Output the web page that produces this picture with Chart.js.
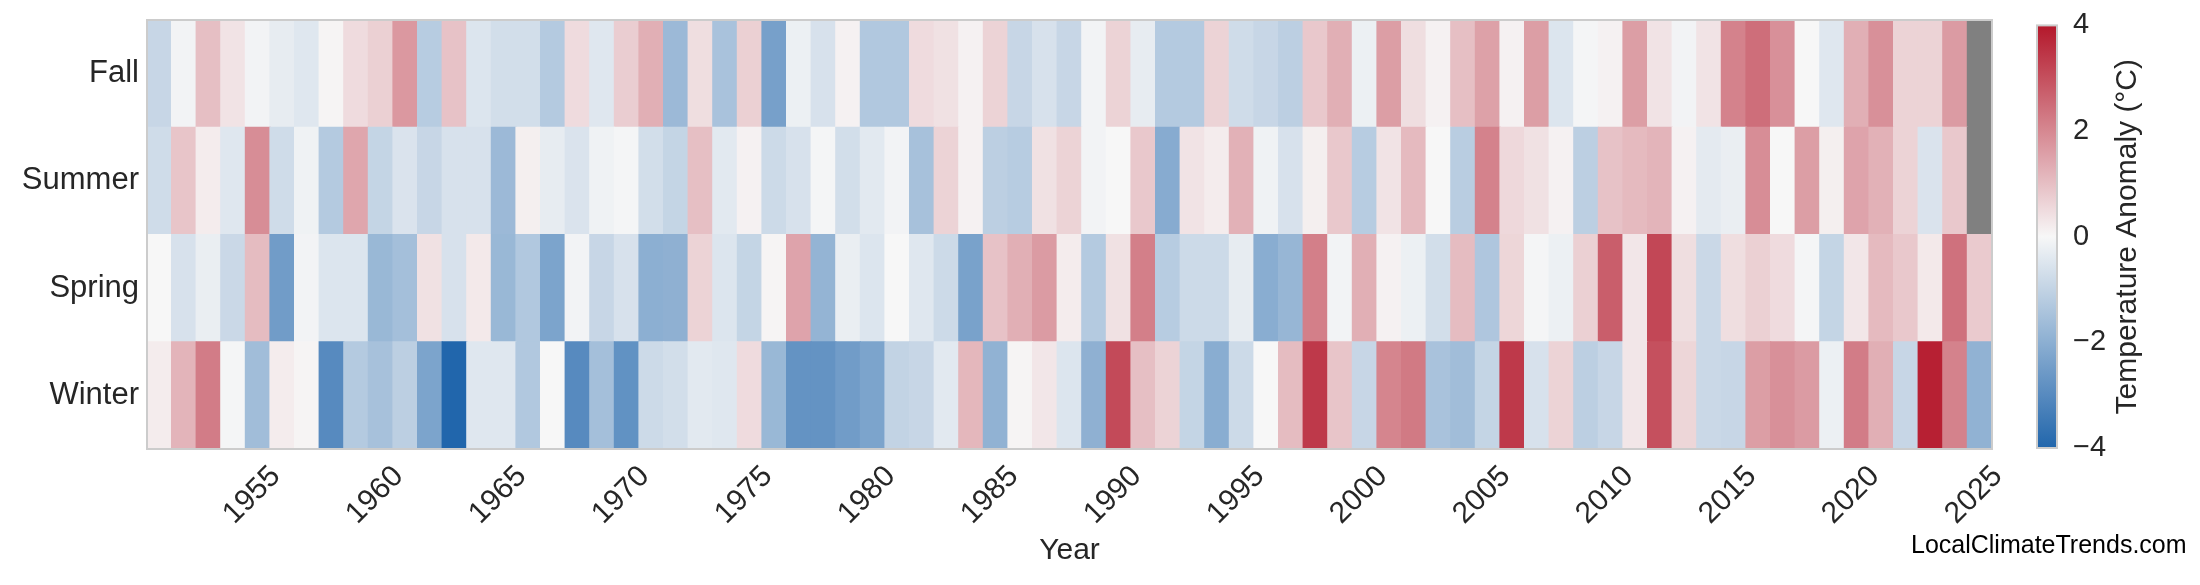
<!DOCTYPE html>
<html>
<head>
<meta charset="utf-8">
<script src="https://cdn.jsdelivr.net/npm/chart.js@4.4.1/dist/chart.umd.min.js"></script>
<style>
  html, body { margin: 0; padding: 0; background: #fff; }
  #wrap { position: relative; width: 2200px; height: 585px; }
  #main { position: absolute; left: 0; top: 0; }
  #cbar { position: absolute; left: 2000px; top: 0; }
  #credit { position: absolute; left: 1911px; top: 530px; font: 25px 'Liberation Sans', Arial, sans-serif; color: #000; }
</style>
</head>
<body>
<div id="wrap">
  <canvas id="main" width="2200" height="585"></canvas>
  <canvas id="cbar" width="200" height="585"></canvas>
  <div id="credit">LocalClimateTrends.com</div>
</div>
<script>
// --- data (°C anomaly per season), 1951..2025 ---
const years = [];
for (let y = 1951; y <= 2025; y++) years.push(y);
const seasons = ['Winter', 'Spring', 'Summer', 'Fall'];

const winter = [0.2, 1.2, 2.2, -0.05, -1.6, 0.2, 0.05, -3.0, -1.25, -1.5, -1.1, -2.3, -4.0, -0.45, -0.45, -1.3, 0.0, -3.0, -1.55,
  -2.8, -0.8, -0.7, -0.4, -0.45, 0.5, -1.75, -2.75, -2.75, -2.5, -2.3, -1.0, -0.9, -0.4, 1.15, -1.9, 0.05, 0.3, -0.5,
  -1.95, 3.1, 1.0, 0.65, -0.95, -2.05, -0.8, 0.0, 1.05, 3.4, 0.9, -0.9, 2.05, 2.25, -1.45, -1.6, -0.95, 3.4, -0.6,
  0.65, -1.1, -0.9, 0.3, 3.0, 0.6, -0.85, -0.9, 1.6, 1.85, 1.65, -0.2, 2.2, 1.3, -0.9, 3.85, 2.1, -1.9];
const spring = [0.0, -0.6, -0.25, -0.85, 1.05, -2.5, -0.1, -0.5, -0.5, -1.75, -1.55, 0.4, -0.6, 0.25, -1.75, -1.3, -2.3, -0.1, -0.9,
  -0.6, -2.0, -1.95, 0.65, -0.5, -0.95, 0.05, 1.5, -1.85, -0.25, -0.5, 0.0, -0.45, -0.8, -2.35, 0.95, 1.3, 1.65, 0.2,
  -1.25, 0.4, 2.15, -1.2, -0.8, -0.8, -0.3, -2.05, -1.8, 2.15, -0.1, 1.3, 0.1, -0.2, -0.7, 1.05, -1.35, 0.6, -0.05,
  -0.2, 0.7, 2.75, 0.3, 3.15, 0.45, -0.85, 0.45, 0.7, 0.5, -0.05, -0.95, 0.3, 1.1, 0.85, 0.25, 2.4, 0.8];
const summer = [-0.75, 0.9, 0.2, -0.45, 1.9, -0.75, -0.15, -1.25, 1.45, -0.95, -0.55, -0.9, -0.6, -0.6, -1.7, 0.15, -0.3, -0.55, -0.15,
  -0.05, -0.7, -0.95, 1.0, -0.4, 0.1, -0.8, -0.6, -0.05, -0.7, -0.4, -0.1, -1.5, 0.65, 0.1, -1.1, -1.2, 0.4, 0.65,
  -0.1, 0.0, 0.85, -2.1, 0.35, 0.2, 1.25, -0.15, -0.6, 0.15, 0.85, -1.2, 0.35, 1.1, 0.0, -1.15, 2.1, 0.55, 0.4,
  0.1, -1.1, 0.95, 1.1, 1.2, 0.1, -0.35, -0.25, 1.9, 0.0, 1.6, 0.15, 1.5, 1.25, 0.65, -0.55, 0.85, null];
const fall = [-0.9, -0.1, 1.0, 0.35, -0.1, -0.3, -0.45, 0.05, 0.5, 0.7, 1.7, -1.2, 0.95, -0.5, -0.7, -0.7, -1.25, 0.5, -0.45,
  0.75, 1.3, -1.7, 0.45, -1.45, 0.7, -2.4, -0.2, -0.6, 0.1, -1.3, -1.3, 0.5, 0.4, 0.1, 0.65, -0.9, -0.6, -0.9,
  -0.1, 0.65, -0.3, -1.25, -1.25, 0.65, -0.75, -0.9, -1.1, 0.85, 1.3, -0.2, 1.6, 0.45, 0.1, 1.0, 1.55, 0.1, 1.6,
  -0.5, -0.05, 0.1, 1.6, 0.35, -0.1, 0.35, 2.1, 2.45, 1.85, 0.0, -0.45, 1.3, 1.85, 0.65, 0.65, 1.65, null];
const colorTicks = [-4, -2, 0, 2, 4];

const FONT = "'Liberation Sans', Arial, sans-serif";
const TEXT = '#262626';

// diverging colour map (-4 blue .. 0 near-white .. +4 red)
const LOW = [33, 102, 172], MID = [247, 247, 247], HIGH = [180, 24, 43];
function anomalyColor(v) {
  if (v === null) return '#808080';
  const t = Math.max(-1, Math.min(1, v / 4));
  const end = t < 0 ? LOW : HIGH;
  const a = Math.abs(t);
  const c = MID.map((m, i) => Math.round(m + (end[i] - m) * a));
  return `rgb(${c[0]},${c[1]},${c[2]})`;
}

const rows = [winter, spring, summer, fall];

const borderPlugin = {
  id: 'frame',
  afterDraw(chart) {
    const a = chart.chartArea, ctx = chart.ctx;
    ctx.save();
    ctx.strokeStyle = '#cccccc';
    ctx.lineWidth = 2;
    ctx.strokeRect(a.left, a.top, a.right - a.left, a.bottom - a.top);
    ctx.restore();
  }
};

new Chart(document.getElementById('main'), {
  type: 'bar',
  data: {
    labels: years,
    datasets: rows.map((vals, i) => ({
      label: seasons[i],
      data: vals.map(() => 1),
      backgroundColor: vals.map(anomalyColor),
      borderWidth: 0,
      barPercentage: 1,
      categoryPercentage: 1,
      inflateAmount: 0.6
    }))
  },
  options: {
    responsive: false,
    animation: false,
    layout: { padding: { top: 20, right: 208, left: 0, bottom: 12 } },
    plugins: { legend: { display: false }, tooltip: { enabled: false } },
    scales: {
      x: {
        stacked: true,
        grid: { display: false },
        border: { display: false },
        ticks: {
          autoSkip: false, minRotation: 45, maxRotation: 45,
          color: TEXT, font: { family: FONT, size: 30 }, padding: 2, labelOffset: 18,
          callback(v) { const y = years[v]; return y % 5 === 0 ? String(y) : ''; }
        },
        title: { display: true, text: 'Year', color: TEXT, font: { family: FONT, size: 30 }, padding: { top: 0 } },
        afterFit(s) { s.height = 124; }
      },
      y: {
        stacked: true, min: 0, max: 4,
        grid: { display: false },
        border: { display: false },
        afterBuildTicks(s) { s.ticks = [0.5, 1.5, 2.5, 3.5].map(v => ({ value: v })); },
        ticks: {
          color: TEXT, font: { family: FONT, size: 31 }, padding: 0,
          callback(v) { return seasons[Math.floor(v)]; }
        },
        afterFit(s) { s.width = 147; }
      }
    }
  },
  plugins: [borderPlugin]
});

// colour bar
const cbTitle = {
  id: 'cbTitle',
  afterDraw(chart) {
    const a = chart.chartArea, ctx = chart.ctx;
    ctx.save();
    ctx.strokeStyle = '#cccccc';
    ctx.lineWidth = 2;
    ctx.strokeRect(a.left, a.top, a.right - a.left, a.bottom - a.top);
    ctx.translate(128, (a.top + a.bottom) / 2);
    ctx.rotate(-Math.PI / 2);
    ctx.fillStyle = TEXT;
    ctx.font = '30px ' + FONT;
    ctx.textAlign = 'center';
    ctx.textBaseline = 'middle';
    ctx.fillText('Temperature Anomaly (°C)', 0, 0);
    ctx.restore();
  }
};

new Chart(document.getElementById('cbar'), {
  type: 'bar',
  data: {
    labels: [''],
    datasets: [{
      data: [[-4, 4]],
      borderWidth: 0,
      barPercentage: 1,
      categoryPercentage: 1,
      backgroundColor(ctx) {
        const a = ctx.chart.chartArea;
        if (!a) return '#ccc';
        const g = ctx.chart.ctx.createLinearGradient(0, a.bottom, 0, a.top);
        for (let i = 0; i <= 16; i++) g.addColorStop(i / 16, anomalyColor(-4 + i / 2));
        return g;
      }
    }]
  },
  options: {
    responsive: false,
    animation: false,
    layout: { padding: { top: 22, bottom: 137, left: 37, right: 0 } },
    plugins: { legend: { display: false }, tooltip: { enabled: false } },
    scales: {
      x: { display: false },
      y: {
        position: 'right', min: -4, max: 4,
        grid: { display: false },
        border: { display: false },
        afterBuildTicks(s) { s.ticks = colorTicks.map(v => ({ value: v })); },
        ticks: {
          color: TEXT, font: { family: FONT, size: 29 }, padding: 8,
          callback(v) { return v < 0 ? '\u2212' + Math.abs(v) : String(v); }
        },
        afterFit(s) { s.width = 143; }
      }
    }
  },
  plugins: [cbTitle]
});
</script>
</body>
</html>
